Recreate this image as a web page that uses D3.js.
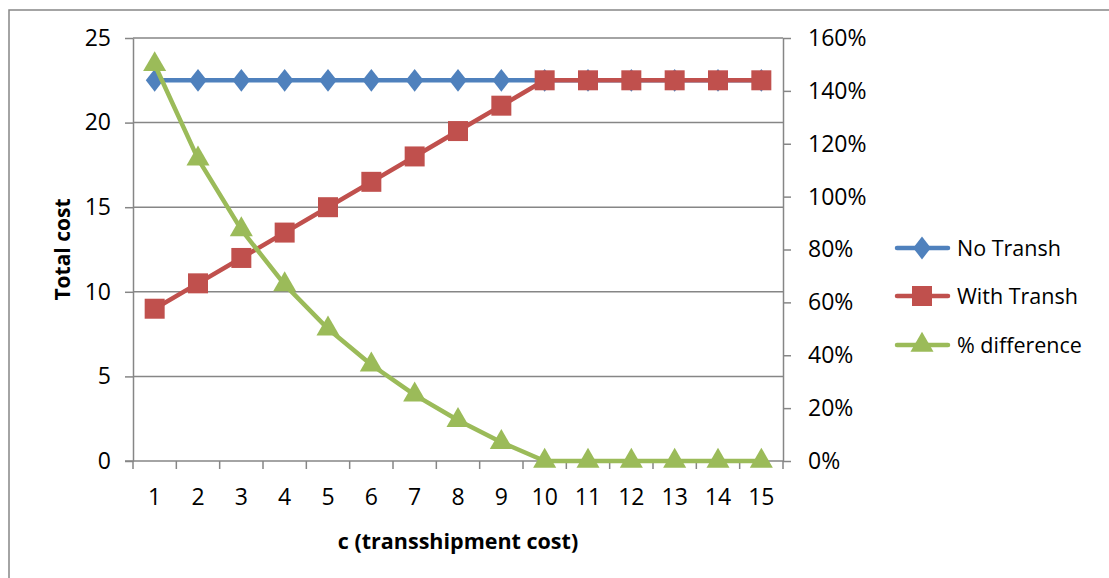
<html>
<head>
<style>
  body { margin: 0; background: #fff; }
  text { font-family: "Open Sans", "Liberation Sans", sans-serif; fill: #000; }
  .axis path, .axis line { stroke: #868686; stroke-width: 1.5; }
  .grid line { stroke: #868686; stroke-width: 1.5; }
</style>
</head>
<body>
<svg id="chart" width="1109" height="578"></svg>
<script src="https://d3js.org/d3.v7.min.js"></script>
<script>
  const categories = ["1","2","3","4","5","6","7","8","9","10","11","12","13","14","15"]
  const noTransh   = [22.5,22.5,22.5,22.5,22.5,22.5,22.5,22.5,22.5,22.5,22.5,22.5,22.5,22.5,22.5]
  const withTransh = [9,10.5,12,13.5,15,16.5,18,19.5,21,22.5,22.5,22.5,22.5,22.5,22.5]
  const pctDiff    = [1.5,1.143,0.875,0.667,0.5,0.364,0.25,0.154,0.071,0,0,0,0,0,0]
  const leftTicks  = [0,5,10,15,20,25]
  const rightTicks = [0,0.2,0.4,0.6,0.8,1.0,1.2,1.4,1.6]

  const svg = d3.select("#chart")
  const plotL = 133, plotT = 38, plotR = 783, plotB = 461

  // outer chart frame (runs past right/bottom edge)
  svg.append("rect").attr("x", 9).attr("y", 10).attr("width", 1120).attr("height", 600)
    .attr("fill", "none").attr("stroke", "#868686").attr("stroke-width", 1.5)

  let x = d3.scaleBand().domain(categories).range([plotL, plotR])
  let yL = d3.scaleLinear().domain([0, 25]).range([plotB, plotT])
  let yR = d3.scaleLinear().domain([0, 1.6]).range([plotB, plotT])

  // gridlines
  svg.append("g").attr("class", "grid")
    .selectAll("line").data(leftTicks.slice(1)).join("line")
    .attr("x1", plotL).attr("x2", plotR)
    .attr("y1", d => yL(d)).attr("y2", d => yL(d))

  // left axis
  let gL = svg.append("g").attr("class", "axis")
    .attr("transform", "translate(" + plotL + ",0)")
    .call(d3.axisLeft(yL).tickValues(leftTicks).tickSize(8).tickPadding(14).tickSizeOuter(0))
  gL.selectAll("text").style("font-size", "23px")

  // right axis
  let gR = svg.append("g").attr("class", "axis")
    .attr("transform", "translate(" + plotR + ",0)")
    .call(d3.axisRight(yR).tickValues(rightTicks).tickFormat(d3.format(".0%"))
      .tickSize(8).tickPadding(17).tickSizeOuter(0))
  gR.selectAll("text").style("font-size", "23px")

  // bottom axis: ticks between categories
  let gB = svg.append("g").attr("class", "axis")
    .attr("transform", "translate(0," + plotB + ")")
  gB.append("line").attr("x1", plotL - 8).attr("x2", plotR).attr("y1", 0).attr("y2", 0)
  let bounds = categories.map(c => x(c)).concat([plotR])
  gB.selectAll("line.tk").data(bounds).join("line").attr("class", "tk")
    .attr("x1", d => d).attr("x2", d => d).attr("y1", 0).attr("y2", 8)
  gB.selectAll("text").data(categories).join("text")
    .attr("x", d => x(d) + x.bandwidth() / 2).attr("y", 44)
    .attr("text-anchor", "middle").style("font-size", "23px").text(d => d)

  // axis titles
  svg.append("text").attr("transform", "translate(70," + ((plotT + plotB) / 2) + ") rotate(-90)")
    .attr("text-anchor", "middle").style("font-size", "21px").style("font-weight", "bold").text("Total cost")
  svg.append("text").attr("x", (plotL + plotR) / 2).attr("y", 549)
    .attr("text-anchor", "middle").style("font-size", "21.5px").style("font-weight", "bold").text("c (transshipment cost)")

  const cx = d => x(d) + x.bandwidth() / 2
  const series = [
    { name: "No Transh", values: noTransh, y: yL, color: "#4F81BD", symbol: d3.symbolDiamond, size: 150 },
    { name: "With Transh", values: withTransh, y: yL, color: "#C0504D", symbol: d3.symbolSquare, size: 400 },
    { name: "% difference", values: pctDiff, y: yR, color: "#9BBB59", symbol: d3.symbolTriangle, size: 230 }
  ]
  const markerTf = s => s.symbol === d3.symbolDiamond ? " scale(1.35,1)" : ""

  series.forEach(s => {
    let pts = categories.map((c, i) => [cx(c), s.y(s.values[i])])
    svg.append("path").datum(pts)
      .attr("d", d3.line())
      .attr("fill", "none").attr("stroke", s.color).attr("stroke-width", 4.5)
      .attr("stroke-linejoin", "round")
    svg.append("g").selectAll("path").data(pts).join("path")
      .attr("d", d3.symbol().type(s.symbol).size(s.size))
      .attr("transform", d => "translate(" + d[0] + "," + d[1] + ")" + markerTf(s))
      .attr("fill", s.color)
  })

  // legend
  let legY = [248, 296, 345]
  series.forEach((s, i) => {
    let g = svg.append("g").attr("transform", "translate(0," + legY[i] + ")")
    g.append("line").attr("x1", 897).attr("x2", 948).attr("stroke", s.color)
      .attr("stroke-width", 4.5).attr("stroke-linecap", "round")
    g.append("path").attr("d", d3.symbol().type(s.symbol).size(s.size)())
      .attr("transform", "translate(922,0)" + markerTf(s))
      .attr("fill", s.color)
    g.append("text").attr("x", 957).attr("y", 8).style("font-size", "21.5px").text(s.name)
  })
</script>
</body>
</html>
